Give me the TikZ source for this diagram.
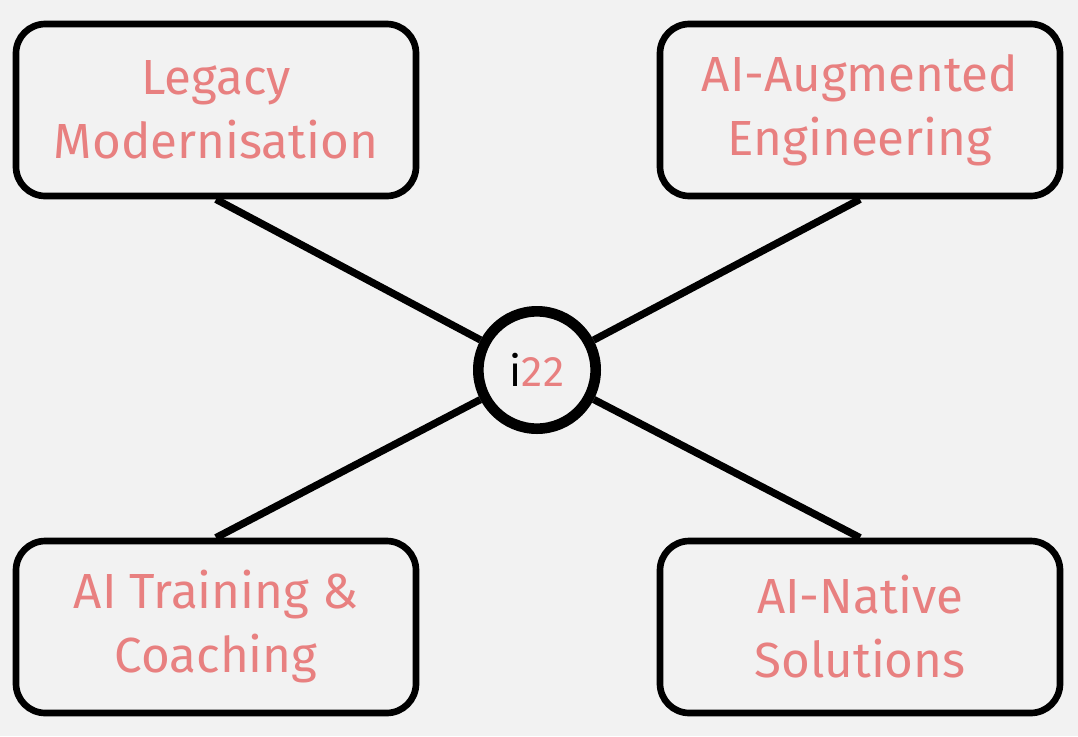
\documentclass[tikz,border=0pt]{standalone}
\usepackage{fontspec}
\setmainfont{Fira Sans}
\definecolor{salmon}{HTML}{E88080}
\definecolor{paper}{HTML}{F2F2F2}

\begin{document}
\begin{tikzpicture}[x=0.75pt,y=0.75pt]
        \tikzset{every node/.append style={inner sep=0pt}}
        \tikzset{area/.style={draw=black, line width=5pt, rounded corners=22pt, fill=paper,
                minimum width=300pt, minimum height=129pt, align=center, text=salmon,
                font=\fontsize{37}{48}\selectfont}}
        \tikzset{link/.style={black, line width=5.5pt}}
        \fill [paper] (0,0) rectangle (1078,-736);
        \node [area] (legacy) at (216,-110) {Legacy\\Modernisation};
        \node [area] (augmented) at (860,-110) {AI-Augmented\\Engineering};
        \node [area] (training) at (216,-627) {AI Training \&\\Coaching};
        \node [area] (native) at (860,-627) {AI-Native\\Solutions};
        \node [draw=black, line width=8pt, circle, fill=paper, minimum size=88pt,
                font=\fontsize{32}{36}\selectfont] (hub) at (537,-370) {i\textcolor{salmon}{22}};
        \draw [link] (legacy.south) -- (hub);
        \draw [link] (augmented.south) -- (hub);
        \draw [link] (training.north) -- (hub);
        \draw [link] (native.north) -- (hub);
    \end{tikzpicture}
\end{document}
